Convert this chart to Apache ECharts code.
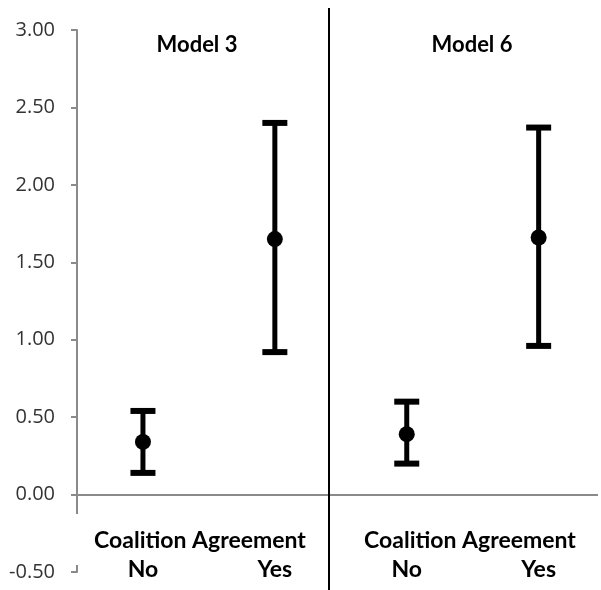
<!DOCTYPE html>
<html>
<head>
<meta charset="utf-8">
<script src="https://cdn.jsdelivr.net/npm/echarts@6/dist/echarts.min.js"></script>
<style>
  html, body { margin: 0; padding: 0; background: #fff; }
  #chart { width: 601px; height: 590px; }
</style>
</head>
<body>
<div id="chart"></div>
<script>
// Predicted effects with confidence intervals, two models side by side
var positions = [1, 2, 3, 4];
var categoryLabels = ['No', 'Yes', 'No', 'Yes'];
var panelTitles = ['Model 3', 'Model 6'];
var groupLabel = 'Coalition Agreement';
var estimates = [0.34, 1.65, 0.39, 1.66];
var lowerBounds = [0.14, 0.92, 0.20, 0.96];
var upperBounds = [0.54, 2.40, 0.60, 2.37];
var yTicks = { min: -0.5, max: 3.0, step: 0.5 };

var FONT = 'Lato, "Open Sans", sans-serif';

var labelByPos = {};
positions.forEach(function (p, i) { labelByPos[p] = categoryLabels[i]; });

var barData = positions.map(function (p, i) { return [p, lowerBounds[i], upperBounds[i]]; });
var pointData = positions.map(function (p, i) { return [p, estimates[i]]; });

var chart = echarts.init(document.getElementById('chart'), null, { renderer: 'canvas' });

var boldText = function (size) {
  return { fontFamily: FONT, fontSize: size, fontWeight: 'bold', color: '#000' };
};

chart.setOption({
  animation: false,
  backgroundColor: '#ffffff',
  grid: { left: 77, right: 0, top: 30, bottom: 18, containLabel: false },
  title: [
    { text: panelTitles[0], left: 192, top: 29, textAlign: 'center', textStyle: boldText(22) },
    { text: panelTitles[1], left: 467, top: 29, textAlign: 'center', textStyle: boldText(22) },
    { text: groupLabel, left: 195, top: 524, textAlign: 'center', textStyle: boldText(23) },
    { text: groupLabel, left: 465, top: 524, textAlign: 'center', textStyle: boldText(23) }
  ],
  xAxis: {
    type: 'value',
    min: 0.5,
    max: 4.45,
    interval: 0.5,
    position: 'bottom',
    axisLine: { show: false, onZero: false },
    axisTick: { show: false },
    splitLine: { show: false },
    axisLabel: {
      margin: -14,
      fontFamily: FONT,
      fontSize: 23,
      fontWeight: 'bold',
      color: '#000',
      formatter: function (v) { return labelByPos[v] || ''; }
    }
  },
  yAxis: {
    type: 'value',
    min: yTicks.min,
    max: yTicks.max,
    interval: yTicks.step,
    axisLine: { show: true, onZero: false, lineStyle: { color: '#8a8a8a', width: 2 } },
    axisTick: { show: true, length: 6, lineStyle: { color: '#8a8a8a', width: 2 } },
    splitLine: { show: false },
    axisLabel: {
      margin: 22,
      fontFamily: '"Open Sans", sans-serif',
      fontSize: 20,
      color: '#333333',
      formatter: function (v) { return v.toFixed(2); }
    }
  },
  series: [
    {
      // confidence interval whiskers
      type: 'custom',
      data: barData,
      z: 3,
      markLine: {
        silent: true,
        symbol: 'none',
        label: { show: false },
        lineStyle: { color: '#8a8a8a', width: 2, type: 'solid' },
        data: [{ yAxis: 0 }]
      },
      renderItem: function (params, api) {
        var x = api.value(0);
        var lo = api.coord([x, api.value(1)]);
        var hi = api.coord([x, api.value(2)]);
        var hw = 12.5;
        return {
          type: 'group',
          children: [
            { type: 'line', shape: { x1: lo[0], y1: lo[1], x2: hi[0], y2: hi[1] },
              style: { stroke: '#000', lineWidth: 5 } },
            { type: 'line', shape: { x1: lo[0] - hw, y1: lo[1], x2: lo[0] + hw, y2: lo[1] },
              style: { stroke: '#000', lineWidth: 6 } },
            { type: 'line', shape: { x1: hi[0] - hw, y1: hi[1], x2: hi[0] + hw, y2: hi[1] },
              style: { stroke: '#000', lineWidth: 6 } }
          ]
        };
      }
    },
    {
      // point estimates
      type: 'scatter',
      data: pointData,
      symbol: 'circle',
      symbolSize: 16,
      z: 4,
      itemStyle: { color: '#000', opacity: 1 }
    }
  ],
  graphic: [
    // break in the value axis behind the group label
    { type: 'rect', shape: { x: 72, y: 514, width: 10, height: 51 }, style: { fill: '#fff' }, z: 100 },
    // panel separator
    { type: 'line', shape: { x1: 329, y1: 8, x2: 329, y2: 590 }, style: { stroke: '#000', lineWidth: 2 }, z: 100 }
  ]
});
</script>
</body>
</html>
